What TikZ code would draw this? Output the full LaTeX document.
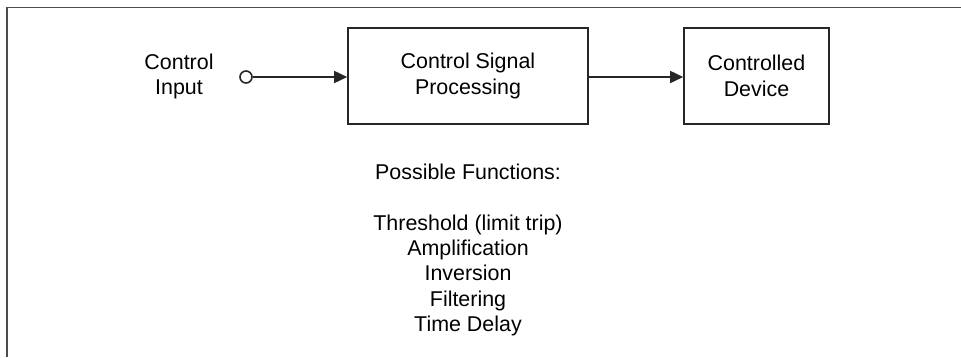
\documentclass[tikz,border=0pt]{standalone}
\usepackage{fontspec}
\setmainfont{Liberation Sans}
\usetikzlibrary{arrows.meta}
\begin{document}
\begin{tikzpicture}[x=1bp,y=-1bp,
    every node/.style={font=\fontsize{21.5}{25.5}\selectfont,align=center},
    blockbox/.style={draw=black!85,line width=1.6bp,inner sep=0pt,minimum height=96bp},
    sigline/.style={draw=black!85,line width=1.6bp,-{Triangle[length=13bp,width=12bp]}}]
    \useasboundingbox (0,0) rectangle (961,357);
    \draw[black!70,line width=1.6bp] (7,357) -- (7,7.5) -- (961,7.5);
    \node[blockbox,minimum width=240bp] (csp) at (468,76) {Control Signal\\Processing};
    \node[blockbox,minimum width=145bp] (dev) at (756.5,76) {Controlled\\Device};
    \node (inlbl) at (179,76.5) {Control\\Input};
    \node[draw=black!85,line width=1.6bp,circle,inner sep=0pt,minimum size=12bp] (cin) at (246,77) {};
    \draw[sigline] (cin.east) -- (cin.east -| csp.west);
    \draw[sigline] (cin.east -| csp.east) -- (cin.east -| dev.west);
    \node (funcs) at (468,250) {Possible Functions:\\[25.5bp]Threshold (limit trip)\\Amplification\\Inversion\\Filtering\\Time Delay};
\end{tikzpicture}
\end{document}
